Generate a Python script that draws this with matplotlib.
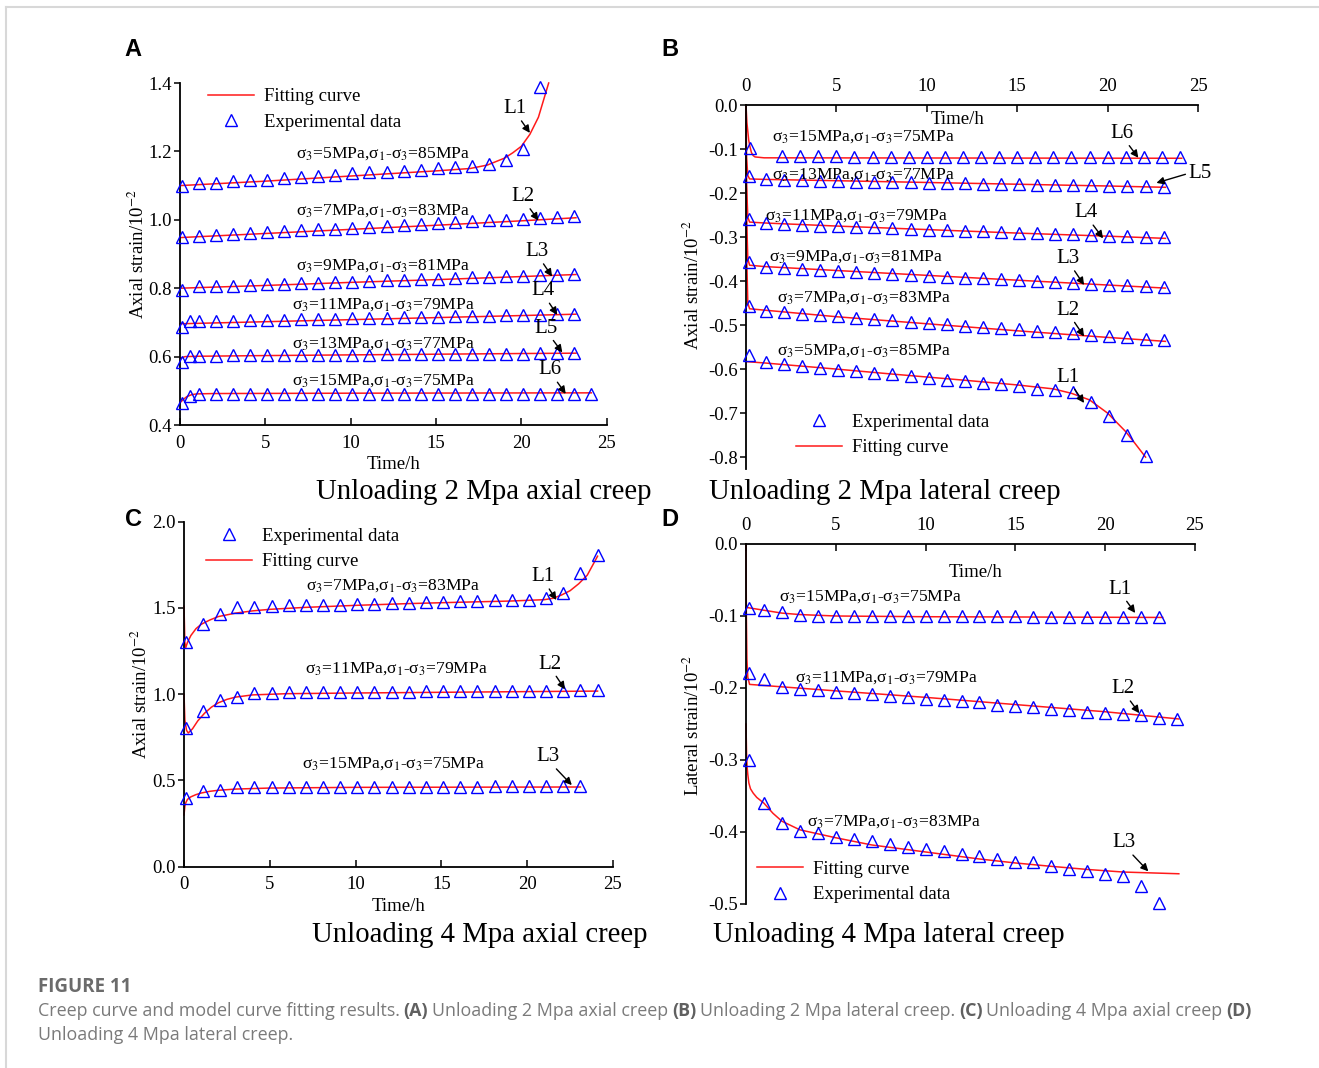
import numpy as np
import matplotlib.pyplot as plt
from matplotlib.lines import Line2D
from matplotlib.ticker import FormatStrFormatter

plt.rcParams['font.family'] = ['Liberation Serif', 'DejaVu Serif']
plt.rcParams['mathtext.fontset'] = 'stix'
plt.rcParams['axes.unicode_minus'] = False

# ---------------- data ----------------
hours = [1.1, 2.1, 3.1, 4.1, 5.1, 6.1, 7.1, 8.1, 9.1, 10.1, 11.1, 12.1,
         13.1, 14.1, 15.1, 16.1, 17.1, 18.1, 19.1, 20.1, 21.1, 22.1, 23.1, 24.1]

# (A) unloading 2 MPa, axial
a_t1 = [0.1] + hours[:21]
a_t23 = [0.1] + hours[:23]
a_t45 = [0.1, 0.6] + hours[:23]
a_t6 = [0.1, 0.6] + hours[:24]
a_l1 = [1.098, 1.107, 1.109, 1.112, 1.115, 1.117, 1.121, 1.126, 1.129, 1.132, 1.136,
        1.139, 1.141, 1.144, 1.146, 1.151, 1.154, 1.158, 1.162, 1.174, 1.207, 1.387]
a_l2 = [0.950, 0.954, 0.957, 0.959, 0.961, 0.964, 0.967, 0.969, 0.972, 0.974, 0.977, 0.979,
        0.983, 0.985, 0.988, 0.990, 0.993, 0.996, 0.998, 1.000, 1.003, 1.006, 1.008, 1.011]
a_l3 = [0.795, 0.805, 0.806, 0.807, 0.809, 0.811, 0.813, 0.814, 0.816, 0.818, 0.819, 0.821,
        0.823, 0.825, 0.826, 0.828, 0.830, 0.832, 0.834, 0.835, 0.836, 0.838, 0.839, 0.841]
a_l4 = [0.688, 0.703, 0.703, 0.704, 0.705, 0.706, 0.707, 0.708, 0.709, 0.710, 0.711, 0.712, 0.713,
        0.714, 0.715, 0.716, 0.717, 0.718, 0.719, 0.720, 0.721, 0.722, 0.723, 0.724, 0.726]
a_l5 = [0.585, 0.603, 0.603, 0.603, 0.604, 0.604, 0.604, 0.605, 0.605, 0.605, 0.606, 0.606, 0.606,
        0.607, 0.607, 0.607, 0.608, 0.608, 0.608, 0.609, 0.609, 0.609, 0.610, 0.610, 0.611]
a_l6 = [0.463, 0.486, 0.492, 0.492, 0.492, 0.492, 0.492, 0.492, 0.492, 0.492, 0.492, 0.492, 0.492,
        0.492, 0.492, 0.492, 0.492, 0.492, 0.492, 0.492, 0.492, 0.492, 0.492, 0.492, 0.492, 0.492]
a_f1_t = [0, 5, 10, 15, 17, 18, 19, 19.5, 20, 20.5, 21, 21.3, 21.6]
a_f1 = [1.100, 1.113, 1.128, 1.143, 1.150, 1.160, 1.180, 1.196, 1.215, 1.250, 1.300, 1.350, 1.400]
a_f23_t = [0, 5, 10, 15, 20, 23.2]
a_f2 = [0.948, 0.960, 0.972, 0.984, 0.997, 1.006]
a_f3 = [0.800, 0.808, 0.817, 0.825, 0.834, 0.840]
a_f4 = [0.696, 0.702, 0.708, 0.714, 0.720, 0.724]
a_f5_t = [0, 0.3, 1, 5, 10, 15, 20, 23.2]
a_f5 = [0.595, 0.600, 0.601, 0.603, 0.605, 0.607, 0.609, 0.610]
a_f6_t = [0, 0.2, 0.4, 0.7, 1.0, 2, 10, 24.1]
a_f6 = [0.465, 0.475, 0.483, 0.489, 0.491, 0.492, 0.493, 0.494]

# (B) unloading 2 MPa, lateral
b_t = [0.15] + hours[:23]
b_t1 = [0.15] + hours[:22]
b_t6 = [0.2, 2, 3, 4, 5, 6, 7, 8, 9, 10, 11, 12, 13, 14, 15, 16, 17, 18, 19, 20, 21, 22, 23, 24]
b_l1 = [-0.569, -0.584, -0.588, -0.592, -0.597, -0.601, -0.604, -0.609, -0.612, -0.616, -0.620, -0.624,
        -0.627, -0.632, -0.635, -0.639, -0.645, -0.648, -0.651, -0.675, -0.707, -0.749, -0.798]
b_l2 = [-0.456, -0.468, -0.471, -0.474, -0.477, -0.480, -0.483, -0.486, -0.489, -0.492, -0.495, -0.498,
        -0.501, -0.504, -0.507, -0.510, -0.513, -0.516, -0.519, -0.522, -0.525, -0.528, -0.531, -0.534]
b_l3 = [-0.356, -0.368, -0.371, -0.373, -0.375, -0.377, -0.379, -0.381, -0.384, -0.386, -0.388, -0.390,
        -0.392, -0.394, -0.396, -0.398, -0.400, -0.402, -0.404, -0.406, -0.408, -0.410, -0.412, -0.414]
b_l4 = [-0.258, -0.268, -0.270, -0.272, -0.274, -0.275, -0.277, -0.278, -0.280, -0.281, -0.283, -0.284,
        -0.286, -0.287, -0.288, -0.290, -0.291, -0.292, -0.294, -0.295, -0.297, -0.298, -0.299, -0.301]
b_l5 = [-0.161, -0.168, -0.170, -0.171, -0.172, -0.173, -0.174, -0.175, -0.176, -0.176, -0.177, -0.178,
        -0.178, -0.179, -0.180, -0.180, -0.181, -0.181, -0.182, -0.182, -0.183, -0.183, -0.184, -0.186]
b_l6 = [-0.097, -0.117, -0.117, -0.117, -0.117, -0.118, -0.118, -0.118, -0.118, -0.118, -0.118, -0.118,
        -0.118, -0.118, -0.118, -0.118, -0.118, -0.118, -0.118, -0.118, -0.118, -0.118, -0.118, -0.118]
b_f1_t = [0, 1, 3, 5, 8, 10, 12, 15, 17, 18, 19, 20, 21, 21.5, 22.1]
b_f1 = [-0.583, -0.586, -0.593, -0.600, -0.611, -0.618, -0.625, -0.636, -0.645, -0.655, -0.670,
        -0.700, -0.742, -0.768, -0.800]
b_f_t = [0, 0.03, 0.1, 0.2, 1, 5, 10, 15, 20, 23.2]
b_f2 = [0, -0.33, -0.45, -0.463, -0.466, -0.481, -0.497, -0.513, -0.528, -0.537]
b_f3 = [0, -0.25, -0.35, -0.364, -0.367, -0.376, -0.387, -0.398, -0.409, -0.416]
b_f4 = [0, -0.18, -0.255, -0.266, -0.268, -0.275, -0.283, -0.291, -0.298, -0.303]
b_f5 = [0, -0.12, -0.16, -0.168, -0.169, -0.172, -0.176, -0.180, -0.184, -0.187]
b_f6_t = [0, 0.05, 0.15, 0.22, 0.3, 0.4, 0.5, 1, 24.1]
b_f6 = [0, -0.04, -0.08, -0.095, -0.108, -0.115, -0.118, -0.120, -0.121]

# (C) unloading 4 MPa, axial
c_t = [0.1] + hours[:24]
c_t3 = [0.1] + hours[:23]
c_l1 = [1.304, 1.405, 1.463, 1.503, 1.507, 1.513, 1.515, 1.515, 1.519, 1.519, 1.523, 1.525, 1.527,
        1.530, 1.532, 1.536, 1.540, 1.542, 1.544, 1.544, 1.548, 1.556, 1.588, 1.704, 1.807]
c_l2 = [0.806, 0.904, 0.966, 0.985, 1.009, 1.009, 1.012, 1.012, 1.013, 1.013, 1.014, 1.014, 1.015,
        1.015, 1.016, 1.016, 1.017, 1.018, 1.018, 1.019, 1.019, 1.020, 1.020, 1.022, 1.024]
c_l3 = [0.400, 0.439, 0.444, 0.460, 0.462, 0.462, 0.463, 0.463, 0.463, 0.463, 0.464, 0.464,
        0.464, 0.464, 0.464, 0.464, 0.464, 0.464, 0.465, 0.465, 0.465, 0.465, 0.465, 0.465]
c_f1_t = [0, 0.05, 0.1, 0.2, 0.4, 0.7, 1, 1.5, 2, 3, 4, 5, 7, 10, 13, 16, 19, 21, 21.5, 22, 22.5,
          23, 23.5, 24.1]
c_f1 = [1.51, 1.30, 1.27, 1.30, 1.34, 1.38, 1.405, 1.43, 1.45, 1.47, 1.483, 1.492, 1.503, 1.515,
        1.525, 1.533, 1.540, 1.548, 1.556, 1.575, 1.600, 1.640, 1.690, 1.800]
c_f2_t = [0, 0.05, 0.15, 0.25, 0.5, 0.8, 1.2, 1.6, 2, 2.5, 3, 4, 6, 10, 15, 20, 24.1]
c_f2 = [1.0, 0.85, 0.79, 0.775, 0.80, 0.845, 0.89, 0.925, 0.95, 0.97, 0.983, 0.996, 1.003, 1.007,
        1.011, 1.015, 1.018]
c_f3_t = [0, 0.05, 0.1, 0.2, 0.4, 0.7, 1, 1.5, 2, 3, 5, 10, 23.1]
c_f3 = [0.30, 0.35, 0.37, 0.39, 0.405, 0.418, 0.427, 0.437, 0.443, 0.45, 0.456, 0.46, 0.462]

# (D) unloading 4 MPa, lateral
d_hours = [1, 2, 3, 4, 5, 6, 7, 8, 9, 10, 11, 12, 13, 14, 15, 16, 17, 18, 19, 20, 21, 22, 23, 24]
d_t = [0.15] + d_hours[:23]
d_t2 = [0.15] + d_hours
d_l1 = [-0.089, -0.092, -0.095, -0.099, -0.100, -0.100, -0.100, -0.100, -0.100, -0.100, -0.100, -0.100,
        -0.100, -0.100, -0.100, -0.100, -0.101, -0.101, -0.101, -0.101, -0.101, -0.101, -0.101, -0.101]
d_l2 = [-0.179, -0.188, -0.199, -0.201, -0.203, -0.206, -0.207, -0.209, -0.211, -0.2125, -0.215, -0.216,
        -0.218, -0.220, -0.223, -0.2245, -0.226, -0.229, -0.2305, -0.233, -0.235, -0.2365, -0.238,
        -0.241, -0.243]
d_l3 = [-0.2995, -0.360, -0.3875, -0.399, -0.402, -0.407, -0.410, -0.413, -0.4167, -0.421, -0.4236,
        -0.427, -0.430, -0.434, -0.4375, -0.441, -0.442, -0.4477, -0.451, -0.4546, -0.458, -0.4616,
        -0.475, -0.4986]
d_f1_t = [0, 0.5, 1, 2, 3, 5, 10, 23.2]
d_f1 = [-0.088, -0.090, -0.092, -0.096, -0.098, -0.100, -0.101, -0.102]
d_f2_t = [0, 0.02, 0.05, 0.1, 0.2, 5, 10, 15, 20, 24.1]
d_f2 = [0, -0.10, -0.16, -0.185, -0.195, -0.204, -0.213, -0.223, -0.233, -0.243]
d_f3_t = [0, 0.03, 0.06, 0.1, 0.16, 0.25, 0.4, 0.6, 1, 1.5, 2, 3, 5, 7, 9, 11, 13, 15, 17, 19, 21, 24.1]
d_f3 = [-0.25, -0.29, -0.309, -0.32, -0.332, -0.34, -0.346, -0.352, -0.36, -0.374, -0.385, -0.397,
        -0.408, -0.418, -0.4245, -0.431, -0.4375, -0.443, -0.4477, -0.452, -0.4556, -0.458]

# ---------------- layout ----------------
W, H = 1319, 1068
fig = plt.figure(figsize=(W / 100, H / 100), dpi=100)


def add_axes(l, r, t, b):
    return fig.add_axes([l / W, 1 - b / H, (r - l) / W, (b - t) / H])


def style(ax, top=False):
    ax.spines['right'].set_visible(False)
    if top:
        ax.spines['bottom'].set_visible(False)
        ax.xaxis.tick_top()
    else:
        ax.spines['top'].set_visible(False)
    for s in ax.spines.values():
        s.set_linewidth(1.3)
    ax.tick_params(axis='x', direction='in', length=5, width=1.1, pad=7, labelsize=13.5)
    ax.tick_params(axis='y', direction='out', length=4, width=1.1, pad=2, labelsize=13.5)
    ax.set_xlim(0, 25)
    ax.set_xticks([0, 5, 10, 15, 20, 25])
    ax.yaxis.set_major_formatter(FormatStrFormatter('%.1f'))


def fit(ax, t, y):
    return ax.plot(t, y, color='#ff1a1a', lw=1.1, zorder=2, clip_on=False)[0]


def pts(ax, t, y):
    return ax.plot(t, y, ls='none', marker='^', ms=8, mfc='none', mec='#0000ff', mew=1.0,
                   zorder=3, clip_on=False)[0]


def cond(ax, s3, d, x, y):
    ax.text(x, y, 'σ$_3$=%dMPa,σ$_1$-σ$_3$=%dMPa' % (s3, d), fontsize=12.6,
            ha='center', va='center', zorder=4)


ARROW = dict(arrowstyle='-|>', color='k', lw=1.0, mutation_scale=11, shrinkA=0, shrinkB=0)


def tag(ax, s, xy, xytext, rel=(0.6, 0.2)):
    ax.annotate(s, xy=xy, xytext=xytext, fontsize=15, ha='center', va='center',
                annotation_clip=False, arrowprops=dict(ARROW, relpos=rel))


def legend(ax, handles, labels, x, y):
    ax.legend(handles, labels, loc='upper left', bbox_to_anchor=(x, y), frameon=False,
              fontsize=13.5, handlelength=2.45, handletextpad=0.55, borderpad=0,
              borderaxespad=0, labelspacing=0.45)


# ---- A ----
axA = add_axes(180, 606.7, 83, 425)
style(axA)
axA.set_ylim(0.4, 1.4)
axA.set_yticks([0.4, 0.6, 0.8, 1.0, 1.2, 1.4])
for ft, fy in [(a_f1_t, a_f1), (a_f23_t, a_f2), (a_f23_t, a_f3), (a_f23_t, a_f4),
               (a_f5_t, a_f5), (a_f6_t, a_f6)]:
    lf = fit(axA, ft, fy)
for t, y in [(a_t1, a_l1), (a_t23, a_l2), (a_t23, a_l3), (a_t45, a_l4), (a_t45, a_l5), (a_t6, a_l6)]:
    lp = pts(axA, t, y)
legend(axA, [lf, lp], ['Fitting curve', 'Experimental data'], 0.066, 0.985)
for s3, d, y in [(5, 85, 1.195), (7, 83, 1.026), (9, 81, 0.865), (11, 79, 0.751), (13, 77, 0.639),
                 (15, 75, 0.529)]:
    cond(axA, s3, d, 11.9, y)
tag(axA, 'L1', (20.5, 1.254), (19.6, 1.325))
tag(axA, 'L2', (21.0, 0.998), (20.1, 1.068))
tag(axA, 'L3', (21.8, 0.834), (20.9, 0.907))
tag(axA, 'L4', (22.1, 0.722), (21.25, 0.792))
tag(axA, 'L5', (22.4, 0.612), (21.45, 0.683))
tag(axA, 'L6', (22.6, 0.491), (21.7, 0.561))
axA.set_xlabel('Time/h', fontsize=13.5)
axA.xaxis.set_label_coords(0.5, -0.092)
axA.set_ylabel(r'Axial strain/10$^{-2}$', fontsize=13.5)
axA.yaxis.set_label_coords(-0.0745, 0.5)

# ---- B ----
axB = add_axes(746, 1198, 105, 469)
style(axB, top=True)
axB.set_ylim(-0.827, 0)
axB.set_yticks([-0.8, -0.7, -0.6, -0.5, -0.4, -0.3, -0.2, -0.1, 0.0])
for ft, fy in [(b_f1_t, b_f1), (b_f_t, b_f2), (b_f_t, b_f3), (b_f_t, b_f4), (b_f_t, b_f5),
               (b_f6_t, b_f6)]:
    lf = fit(axB, ft, fy)
for t, y in [(b_t1, b_l1), (b_t, b_l2), (b_t, b_l3), (b_t, b_l4), (b_t, b_l5), (b_t6, b_l6)]:
    lp = pts(axB, t, y)
legend(axB, [lp, lf], ['Experimental data', 'Fitting curve'], 0.11, 0.152)
for s3, d, x, y in [(15, 75, 6.5, -0.072), (13, 77, 6.5, -0.157), (11, 79, 6.1, -0.252),
                    (9, 81, 6.1, -0.345), (7, 83, 6.5, -0.438), (5, 85, 6.5, -0.557)]:
    cond(axB, s3, d, x, y)
tag(axB, 'L6', (21.7, -0.120), (20.8, -0.0645))
tag(axB, 'L4', (19.75, -0.303), (18.8, -0.245))
tag(axB, 'L3', (18.7, -0.409), (17.8, -0.349))
tag(axB, 'L2', (18.7, -0.526), (17.8, -0.466))
tag(axB, 'L1', (18.7, -0.677), (17.8, -0.618))
tag(axB, 'L5', (22.7, -0.177), (25.1, -0.155), rel=(-0.1, 0.45))
axB.text(11.7, -0.033, 'Time/h', fontsize=13.5, ha='center', va='center')
axB.set_ylabel(r'Axial strain/10$^{-2}$', fontsize=13.5)
axB.yaxis.set_label_coords(-0.095, 0.505)

# ---- C ----
axC = add_axes(184, 613, 521.7, 866.7)
style(axC)
axC.set_ylim(0, 2.0)
axC.set_yticks([0.0, 0.5, 1.0, 1.5, 2.0])
for ft, fy in [(c_f1_t, c_f1), (c_f2_t, c_f2), (c_f3_t, c_f3)]:
    lf = fit(axC, ft, fy)
for t, y in [(c_t, c_l1), (c_t, c_l2), (c_t3, c_l3)]:
    lp = pts(axC, t, y)
legend(axC, [lp, lf], ['Experimental data', 'Fitting curve'], 0.051, 0.983)
cond(axC, 7, 83, 12.2, 1.627)
cond(axC, 11, 79, 12.36, 1.15)
cond(axC, 15, 75, 12.2, 0.595)
tag(axC, 'L1', (21.7, 1.546), (20.9, 1.681))
tag(axC, 'L2', (22.2, 1.028), (21.3, 1.175))
tag(axC, 'L3', (22.6, 0.473), (21.2, 0.638))
axC.set_xlabel('Time/h', fontsize=13.5)
axC.xaxis.set_label_coords(0.5, -0.092)
axC.set_ylabel(r'Axial strain/10$^{-2}$', fontsize=13.5)
axC.yaxis.set_label_coords(-0.077, 0.5)

# ---- D ----
axD = add_axes(746, 1195, 544, 904)
style(axD, top=True)
axD.set_ylim(-0.5, 0)
axD.set_yticks([-0.5, -0.4, -0.3, -0.2, -0.1, 0.0])
for ft, fy in [(d_f1_t, d_f1), (d_f2_t, d_f2), (d_f3_t, d_f3)]:
    lf = fit(axD, ft, fy)
for t, y in [(d_t, d_l1), (d_t2, d_l2), (d_t, d_l3)]:
    lp = pts(axD, t, y)
legend(axD, [lf, lp], ['Fitting curve', 'Experimental data'], 0.0245, 0.12)
cond(axD, 15, 75, 6.94, -0.0736)
cond(axD, 11, 79, 7.84, -0.186)
cond(axD, 7, 83, 8.24, -0.385)
tag(axD, 'L1', (21.67, -0.0958), (20.8, -0.0625))
tag(axD, 'L2', (21.9, -0.235), (21.0, -0.201))
tag(axD, 'L3', (22.4, -0.4546), (21.07, -0.415))
axD.text(12.8, -0.039, 'Time/h', fontsize=13.5, ha='center', va='center')
axD.set_ylabel(r'Lateral strain/10$^{-2}$', fontsize=13.5)
axD.yaxis.set_label_coords(-0.096, 0.497)

# ---- titles and panel letters ----
for x, y, s in [(484, 492, 'Unloading 2 Mpa axial creep'), (885, 492, 'Unloading 2 Mpa lateral creep'),
                (480, 935, 'Unloading 4 Mpa axial creep'), (889, 935, 'Unloading 4 Mpa lateral creep')]:
    fig.text(x / W, 1 - y / H, s, fontsize=20.7, ha='center', va='center')
for x, y, s in [(133, 50, 'A'), (670, 50, 'B'), (133, 519, 'C'), (670, 519, 'D')]:
    fig.text(x / W, 1 - y / H, s, fontsize=17, weight='bold', family='Liberation Sans',
             ha='center', va='center')

# ---- frame ----
fig.add_artist(Line2D([6 / W, 1], [1 - 7 / H, 1 - 7 / H], color='#d8d8d8', lw=1.5))
fig.add_artist(Line2D([6 / W, 6 / W], [0, 1 - 7 / H], color='#d8d8d8', lw=1.5))

# ---- caption ----
renderer = fig.canvas.get_renderer()
cap_font = ['Open Sans', 'DejaVu Sans']
cap_size = 12.9


def rich(x, y, txt, bold):
    t = fig.text(x / W, 1 - y / H, txt, fontsize=cap_size, family=cap_font,
                 weight='bold' if bold else 'normal',
                 color='#606060' if bold else '#7a7a7a', va='center', ha='left')
    return x + t.get_window_extent(renderer).width


fig.text(38 / W, 1 - 987 / H, 'FIGURE 11', fontsize=13.5, family=cap_font, weight='bold',
         color='#6b6b6b', va='center', ha='left')
sp = 3.8
x = rich(38, 1011, 'Creep curve and model curve fitting results.', False) + sp
for lab, desc in [('(A)', 'Unloading 2 Mpa axial creep'), ('(B)', 'Unloading 2 Mpa lateral creep.'),
                  ('(C)', 'Unloading 4 Mpa axial creep')]:
    x = rich(x, 1011, lab, True) + sp
    x = rich(x, 1011, desc, False) + sp
rich(x, 1011, '(D)', True)
rich(38, 1035, 'Unloading 4 Mpa lateral creep.', False)

fig.savefig('out.png', dpi=100)
